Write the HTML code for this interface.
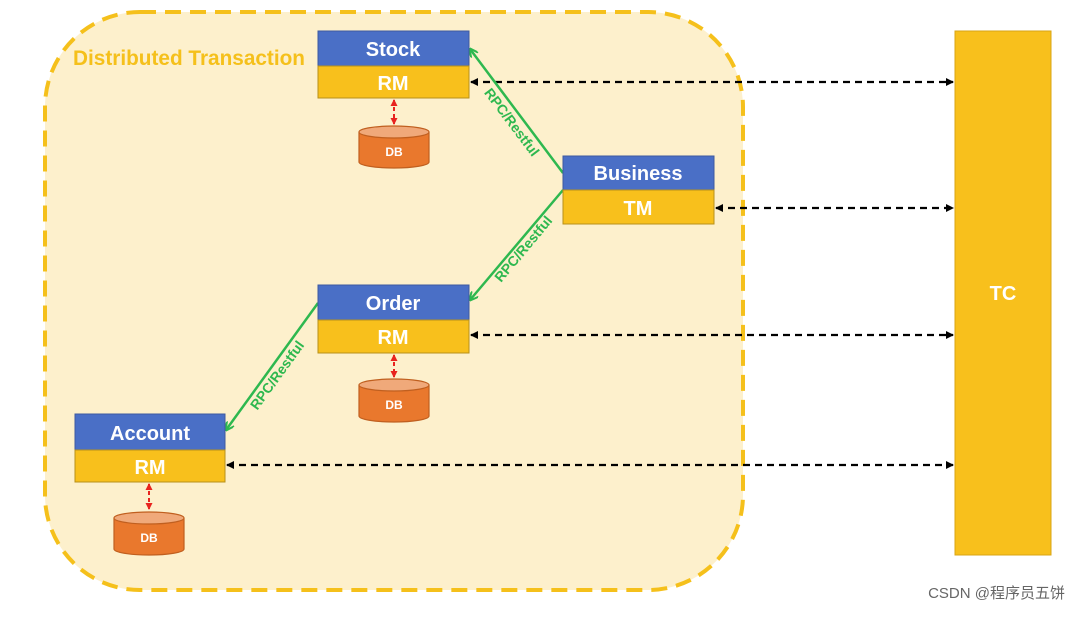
<!DOCTYPE html>
<html><head><meta charset="utf-8"><style>
body{margin:0;background:#fff}
svg text{font-family:"Liberation Sans",sans-serif;font-weight:bold}
</style></head><body>
<svg width="1080" height="612" viewBox="0 0 1080 612" xmlns="http://www.w3.org/2000/svg">
<defs>
<marker id="ak" markerWidth="8" markerHeight="8" refX="7" refY="4" orient="auto-start-reverse" markerUnits="userSpaceOnUse"><path d="M0,0 L8,4 L0,8z" fill="#000"/></marker>
<marker id="ag" markerWidth="9" markerHeight="9" refX="8" refY="4.5" orient="auto" markerUnits="userSpaceOnUse"><path d="M0,0 L9,4.5 L0,9" fill="none" stroke="#2eb84f" stroke-width="2"/></marker>
<marker id="ar" markerWidth="7" markerHeight="7" refX="6" refY="3.5" orient="auto-start-reverse" markerUnits="userSpaceOnUse"><path d="M0,0 L7,3.5 L0,7z" fill="#e8231e"/></marker>
</defs>
<rect x="45" y="12" width="698" height="578" rx="95" fill="#fdf0cc" stroke="#f5c01b" stroke-width="4" stroke-dasharray="16,9"/>
<text x="73" y="65" font-size="21" fill="#f5c01b" textLength="232" lengthAdjust="spacingAndGlyphs">Distributed Transaction</text>
<rect x="955" y="31" width="96" height="524" fill="#f8c01c" stroke="#d9a514"/>
<text x="1003" y="300" font-size="20" fill="#fff" text-anchor="middle">TC</text>
<g stroke="#000" stroke-width="2.2" stroke-dasharray="7,5" marker-start="url(#ak)" marker-end="url(#ak)">
<line x1="471" y1="82" x2="953" y2="82"/>
<line x1="716" y1="208" x2="953" y2="208"/>
<line x1="471" y1="335" x2="953" y2="335"/>
<line x1="227" y1="465" x2="953" y2="465"/>
</g>
<g stroke="#2eb84f" stroke-width="2.5" fill="none" marker-end="url(#ag)">
<line x1="563" y1="173" x2="470" y2="49"/>
<line x1="563" y1="190" x2="470" y2="300"/>
<line x1="318" y1="303" x2="226" y2="430"/>
</g>
<g font-size="14" fill="#2eb84f">
<text transform="translate(508,125) rotate(53)" text-anchor="middle">RPC/Restful</text>
<text transform="translate(527,252) rotate(-50)" text-anchor="middle">RPC/Restful</text>
<text transform="translate(281,378) rotate(-54)" text-anchor="middle">RPC/Restful</text>
</g>
<g font-size="20" fill="#fff" text-anchor="middle">
<rect x="318" y="31" width="151" height="35" fill="#4a6fc6" stroke="#3d5aa0"/><text x="393" y="56">Stock</text>
<rect x="318" y="66" width="151" height="32" fill="#f8c01c" stroke="#b8901a"/><text x="393" y="90">RM</text>
<rect x="563" y="156" width="151" height="34" fill="#4a6fc6" stroke="#3d5aa0"/><text x="638" y="180">Business</text>
<rect x="563" y="190" width="151" height="34" fill="#f8c01c" stroke="#b8901a"/><text x="638" y="215">TM</text>
<rect x="318" y="285" width="151" height="35" fill="#4a6fc6" stroke="#3d5aa0"/><text x="393" y="310">Order</text>
<rect x="318" y="320" width="151" height="33" fill="#f8c01c" stroke="#b8901a"/><text x="393" y="344">RM</text>
<rect x="75" y="414" width="150" height="36" fill="#4a6fc6" stroke="#3d5aa0"/><text x="150" y="440">Account</text>
<rect x="75" y="450" width="150" height="32" fill="#f8c01c" stroke="#b8901a"/><text x="150" y="474">RM</text>
</g>
<g stroke="#e8231e" stroke-width="2" stroke-dasharray="4,3" marker-start="url(#ar)" marker-end="url(#ar)">
<line x1="394" y1="100" x2="394" y2="124"/>
<line x1="394" y1="355" x2="394" y2="377"/>
<line x1="149" y1="484" x2="149" y2="509"/>
</g>
<g fill="#e9782d" stroke="#c05f1f" stroke-width="1.2">
<path d="M359,132 v30 a35,6 0 0 0 70,0 v-30"/><ellipse cx="394" cy="132" rx="35" ry="6" fill="#f0a97a"/>
<path d="M359,385 v31 a35,6 0 0 0 70,0 v-31"/><ellipse cx="394" cy="385" rx="35" ry="6" fill="#f0a97a"/>
<path d="M114,518 v31 a35,6 0 0 0 70,0 v-31"/><ellipse cx="149" cy="518" rx="35" ry="6" fill="#f0a97a"/>
</g>
<g font-size="12" fill="#fff" text-anchor="middle">
<text x="394" y="156">DB</text><text x="394" y="409">DB</text><text x="149" y="542">DB</text>
</g>
<text x="1065" y="598" font-size="15" fill="#666" text-anchor="end" style="font-weight:normal;font-family:'Liberation Sans','Noto Sans CJK SC',sans-serif">CSDN @程序员五饼</text>
</svg>
</body></html>
